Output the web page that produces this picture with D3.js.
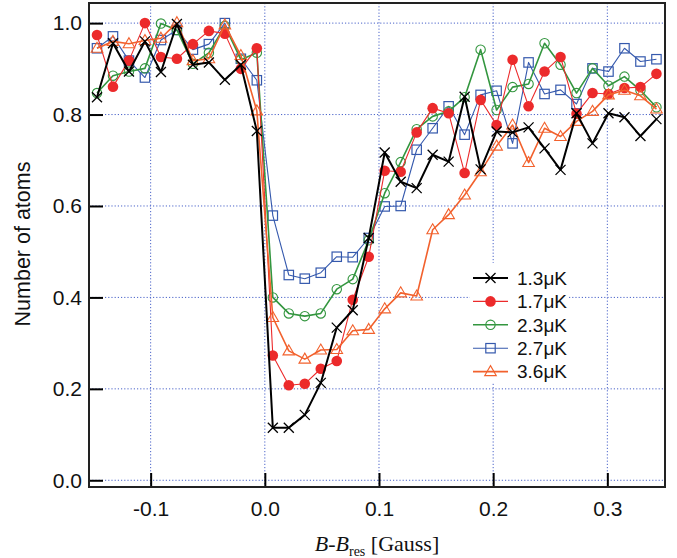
<!DOCTYPE html>
<html><head><meta charset="utf-8">
<script src="https://cdn.jsdelivr.net/npm/d3@7"></script>
<style>body{margin:0;background:#fff}svg{display:block}</style>
</head><body>
<svg id="c" width="677" height="558"></svg>
<script>
const xVals = [-0.147,-0.133,-0.119,-0.105,-0.091,-0.077,-0.063,-0.049,-0.035,-0.021,-0.007,0.007,0.021,0.035,0.049,0.063,0.077,0.091,0.105,0.119,0.133,0.147,0.161,0.175,0.189,0.203,0.217,0.231,0.245,0.259,0.273,0.287,0.301,0.315,0.329,0.343];
const s13 = [0.838,0.956,0.894,0.960,0.893,0.998,0.909,0.914,0.876,0.909,0.764,0.115,0.115,0.143,0.213,0.334,0.372,0.530,0.717,0.653,0.639,0.712,0.697,0.839,0.680,0.763,0.761,0.772,0.726,0.679,0.803,0.737,0.803,0.794,0.753,0.790];
const s17 = [0.974,0.861,0.918,1.000,0.926,0.922,0.954,0.983,0.977,0.900,0.945,0.273,0.208,0.211,0.244,0.261,0.395,0.489,0.677,0.675,0.761,0.814,0.803,0.672,0.832,0.777,0.920,0.818,0.894,0.926,0.802,0.847,0.845,0.858,0.860,0.889];
const s23 = [0.847,0.885,0.894,0.901,0.999,0.985,0.911,0.935,0.994,0.920,0.935,0.400,0.365,0.359,0.365,0.418,0.440,0.525,0.628,0.696,0.768,0.796,0.807,0.838,0.942,0.810,0.860,0.867,0.956,0.909,0.847,0.901,0.863,0.883,0.853,0.816];
const s27 = [0.945,0.971,0.918,0.881,0.963,0.985,0.942,0.954,1.000,0.922,0.875,0.579,0.449,0.441,0.454,0.489,0.488,0.530,0.599,0.600,0.723,0.770,0.818,0.756,0.843,0.852,0.737,0.914,0.845,0.854,0.823,0.901,0.894,0.945,0.916,0.921];
const s36 = [0.945,0.960,0.955,0.962,0.967,1.001,0.918,0.922,0.996,0.929,0.808,0.356,0.283,0.265,0.285,0.286,0.327,0.330,0.375,0.410,0.403,0.548,0.581,0.624,0.675,0.731,0.777,0.695,0.770,0.752,0.785,0.807,0.843,0.853,0.841,0.812];
const seriesLabels = ["1.3\u03bcK","1.7\u03bcK","2.3\u03bcK","2.7\u03bcK","3.6\u03bcK"];
const xTicks = [-0.1,0.0,0.1,0.2,0.3];
const yTicks = [0.0,0.2,0.4,0.6,0.8,1.0];

const series = [
  {name: seriesLabels[3], vals: s27, color:"#3559ad", lw:1.1, marker:"square"},
  {name: seriesLabels[2], vals: s23, color:"#33963f", lw:1.6, marker:"circle"},
  {name: seriesLabels[1], vals: s17, color:"#ec2a2b", lw:1.1, marker:"dot"},
  {name: seriesLabels[4], vals: s36, color:"#f2612d", lw:1.6, marker:"tri"},
  {name: seriesLabels[0], vals: s13, color:"#000000", lw:2, marker:"x"}
];
const legendOrder = [4,2,1,0,3];

const svg = d3.select("#c");
const L=89, R=665, T=3, B=487;
const x = d3.scaleLinear().domain([-0.154,0.3505]).range([L,R]);
const y = d3.scaleLinear().domain([-0.0147,1.044]).range([B,T]);

// grid
const grid = svg.append("g").attr("stroke","#4a63c9").attr("stroke-width",1).attr("stroke-dasharray","1.2,2");
grid.selectAll(".gx").data(xTicks).join("line").attr("x1",d=>x(d)).attr("x2",d=>x(d)).attr("y1",T).attr("y2",B);
grid.selectAll(".gy").data(yTicks).join("line").attr("y1",d=>y(d)).attr("y2",d=>y(d)).attr("x1",L).attr("x2",R);

function marker(g, type, color){
  if(type==="x"){
    g.append("path").attr("d","M-5,-5L5,5M-5,5L5,-5").attr("stroke",color).attr("stroke-width",1.3).attr("fill","none");
  } else if(type==="dot"){
    g.append("circle").attr("r",5.3).attr("fill",color).attr("stroke","none");
  } else if(type==="circle"){
    g.append("circle").attr("r",4.7).attr("fill","none").attr("stroke",color).attr("stroke-width",1.1);
  } else if(type==="square"){
    g.append("rect").attr("x",-4.7).attr("y",-4.7).attr("width",9.4).attr("height",9.4).attr("fill","none").attr("stroke",color).attr("stroke-width",1.2);
  } else if(type==="tri"){
    g.append("path").attr("d","M0,-6L5.8,4L-5.8,4Z").attr("fill","none").attr("stroke",color).attr("stroke-width",1.1);
  }
}

const line = d3.line().x((d,i)=>x(xVals[i])).y(d=>y(d));
series.forEach(s=>{
  const g = svg.append("g");
  g.append("path").attr("d",line(s.vals)).attr("fill","none").attr("stroke",s.color).attr("stroke-width",s.lw).attr("stroke-linejoin","round");
  s.vals.forEach((v,i)=>{
    const m = g.append("g").attr("transform",`translate(${x(xVals[i])},${y(v)})`);
    marker(m, s.marker, s.color);
  });
});

// axes
const ax = svg.append("g").attr("transform",`translate(0,${B})`)
  .call(d3.axisBottom(x).tickValues(xTicks).tickSize(-14).tickPadding(14).tickFormat(d3.format(".1f")));
const ay = svg.append("g").attr("transform",`translate(${L},0)`)
  .call(d3.axisLeft(y).tickValues(yTicks).tickSize(-14).tickPadding(7).tickFormat(d3.format(".1f")));
[ax,ay].forEach(a=>{
  a.select(".domain").remove();
  a.selectAll(".tick line").attr("stroke","#000").attr("stroke-width",2);
  a.selectAll(".tick text").attr("font-family","'Liberation Sans', Arial, sans-serif").attr("font-size",21).attr("fill","#111");
});
ax.selectAll(".tick text").text(d=>d3.format(".1f")(d).replace("\u2212","-"));
ay.selectAll(".tick text").text(d=>d3.format(".1f")(d).replace("\u2212","-"));

// frame
svg.append("rect").attr("x",L).attr("y",T).attr("width",R-L).attr("height",B-T).attr("fill","none").attr("stroke","#222").attr("stroke-width",2);

// legend
const lg = svg.append("g");
lg.append("rect").attr("x",470).attr("y",263).attr("width",98).attr("height",119).attr("fill","#fff");
legendOrder.forEach((si,k)=>{
  const s = series[si];
  const yy = 278 + k*23.4;
  lg.append("line").attr("x1",473).attr("x2",508).attr("y1",yy).attr("y2",yy).attr("stroke",s.color).attr("stroke-width",s.lw);
  const m = lg.append("g").attr("transform",`translate(490.5,${yy})`);
  marker(m, s.marker, s.color);
  lg.append("text").attr("x",517).attr("y",yy).attr("dy","0.36em").attr("font-family","'Liberation Sans', Arial, sans-serif").attr("font-size",19).attr("fill","#111").text(s.name);
});

// axis titles
svg.append("text").attr("transform","translate(30,244) rotate(-90)").attr("text-anchor","middle")
  .attr("font-family","'Liberation Sans', Arial, sans-serif").attr("font-size",21.5).attr("fill","#111").text("Number of atoms");
const xt = svg.append("text").attr("x",377).attr("y",551).attr("text-anchor","middle")
  .attr("font-family","'Liberation Serif', 'Times New Roman', serif").attr("font-size",22).attr("fill","#111");
xt.append("tspan").attr("font-style","italic").text("B");
xt.append("tspan").text("-");
xt.append("tspan").attr("font-style","italic").text("B");
xt.append("tspan").attr("font-size",14).attr("dy",5).text("res");
xt.append("tspan").attr("dy",-5).text(" [Gauss]");
</script>
</body></html>
